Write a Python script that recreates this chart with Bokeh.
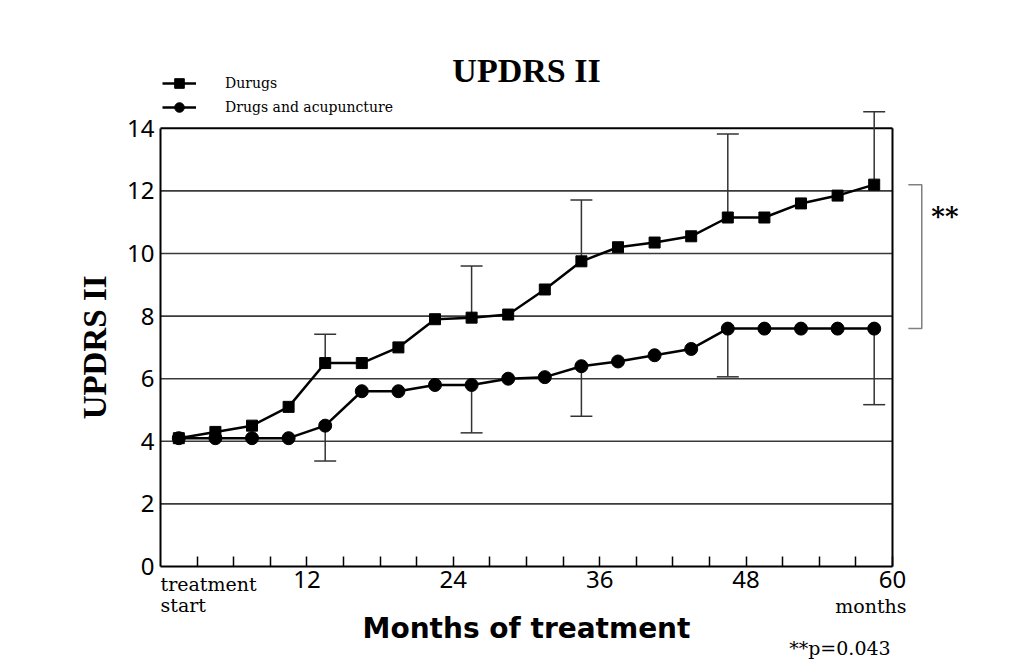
import math
from bokeh.plotting import figure
from bokeh.models import Range1d, FixedTicker, Label, Legend, LegendItem
from bokeh.embed import file_html
from bokeh.resources import INLINE

# Visit months (midpoints of each 3-month block)
months = [1.5, 4.5, 7.5, 10.5, 13.5, 16.5, 19.5, 22.5, 25.5, 28.5,
          31.5, 34.5, 37.5, 40.5, 43.5, 46.5, 49.5, 52.5, 55.5, 58.5]

# Mean UPDRS II scores
durugs = [4.1, 4.3, 4.5, 5.1, 6.5, 6.5, 7.0, 7.9, 7.95, 8.05,
          8.85, 9.75, 10.2, 10.35, 10.55, 11.15, 11.15, 11.6, 11.85, 12.2]
acupuncture = [4.1, 4.1, 4.1, 4.1, 4.5, 5.6, 5.6, 5.8, 5.8, 6.0,
               6.05, 6.4, 6.55, 6.75, 6.95, 7.6, 7.6, 7.6, 7.6, 7.6]

# Standard deviations shown at selected visits
err_months = [13.5, 25.5, 34.5, 46.5, 58.5]
durugs_sd = [0.92, 1.65, 1.96, 2.67, 2.33]
acupuncture_sd = [1.13, 1.53, 1.6, 1.54, 2.43]

y_ticks = [0, 2, 4, 6, 8, 10, 12, 14]
x_ticks = [12, 24, 36, 48, 60]
x_minor = [3, 6, 9, 15, 18, 21, 27, 30, 33, 39, 42, 45, 51, 54, 57]
grid_levels = [2, 4, 6, 8, 10, 12]

X_MAX, Y_MAX = 60, 14

# the data frame fills the canvas; axes are pinned at x=0 / y=0
p = figure(width=1024, height=661,
           x_range=Range1d(-13.115, 70.82), y_range=Range1d(-3.035, 18.083),
           output_backend="svg", toolbar_location=None,
           min_border=0)
p.outline_line_color = None
p.grid.visible = False
p.background_fill_color = "white"
p.border_fill_color = "white"

# axes
p.xaxis.fixed_location = 0
p.xaxis.bounds = (0, X_MAX)
p.xaxis.ticker = FixedTicker(ticks=x_ticks, minor_ticks=x_minor)
p.xaxis.major_tick_in = 10
p.xaxis.major_tick_out = 0
p.xaxis.minor_tick_in = 10
p.xaxis.minor_tick_out = 0
p.xaxis.major_tick_line_width = 1.5
p.xaxis.minor_tick_line_width = 1.5
p.xaxis.major_label_standoff = 4

p.yaxis.fixed_location = 0
p.yaxis.bounds = (0, Y_MAX)
p.yaxis.ticker = FixedTicker(ticks=y_ticks)
p.yaxis.major_tick_in = 0
p.yaxis.major_tick_out = 0
p.yaxis.major_label_standoff = 6

for ax in (p.xaxis, p.yaxis):
    ax.axis_line_width = 2
    ax.axis_line_color = "black"
    ax.major_tick_line_color = "black"
    ax.minor_tick_line_color = "black"
    ax.major_label_text_font = "Noto Sans"
    ax.major_label_text_font_size = "24px"
    ax.major_label_text_color = "black"

# horizontal grid and the top/right sides of the box
p.segment(x0=[0] * len(grid_levels), y0=grid_levels,
          x1=[X_MAX] * len(grid_levels), y1=grid_levels,
          line_color="#3a3a3a", line_width=1.6)
p.segment(x0=[0, X_MAX], y0=[Y_MAX, 0], x1=[X_MAX, X_MAX], y1=[Y_MAX, Y_MAX],
          line_color="black", line_width=2)

# error bars: upward for drugs only, downward for drugs + acupuncture
d_idx = [months.index(m) for m in err_months]
d_mean = [durugs[i] for i in d_idx]
a_mean = [acupuncture[i] for i in d_idx]
d_top = [m + s for m, s in zip(d_mean, durugs_sd)]
a_bot = [m - s for m, s in zip(a_mean, acupuncture_sd)]
cap = 0.9
p.segment(x0=err_months, y0=d_mean, x1=err_months, y1=d_top,
          line_color="#333333", line_width=1.5)
p.segment(x0=[m - cap for m in err_months], y0=d_top,
          x1=[m + cap for m in err_months], y1=d_top,
          line_color="#333333", line_width=1.5)
p.segment(x0=err_months, y0=a_mean, x1=err_months, y1=a_bot,
          line_color="#333333", line_width=1.5)
p.segment(x0=[m - cap for m in err_months], y0=a_bot,
          x1=[m + cap for m in err_months], y1=a_bot,
          line_color="#333333", line_width=1.5)

# series
l1 = p.line(months, durugs, line_color="black", line_width=2.5)
s1 = p.scatter(months, durugs, marker="square", size=11,
               fill_color="black", line_color="black")
l2 = p.line(months, acupuncture, line_color="black", line_width=2.5)
s2 = p.scatter(months, acupuncture, marker="circle", size=13,
               fill_color="black", line_color="black")

legend = Legend(items=[LegendItem(label="Durugs", renderers=[l1, s1]),
                       LegendItem(label="Drugs and acupuncture", renderers=[l2, s2])],
                location=(162, 542), glyph_width=34, glyph_height=24, spacing=0,
                padding=0, margin=0, label_standoff=29, label_height=24,
                border_line_color=None, background_fill_alpha=0,
                label_text_font="DejaVu Serif", label_text_font_size="14px",
                label_text_color="black")
p.add_layout(legend)

# significance bracket between the final means
bx0, bx1 = 61.3, 62.4
p.line([bx0, bx1, bx1, bx0], [durugs[-1], durugs[-1], acupuncture[-1], acupuncture[-1]],
       line_color="#808080", line_width=1.5)
p.add_layout(Label(x=64.3, y=11.2, text="**", text_align="center",
                   text_baseline="middle", text_font="DejaVu Serif",
                   text_font_style="bold", text_font_size="26px", text_color="black"))

# titles and extra annotations
p.add_layout(Label(x=30, y=15.85, text="UPDRS II", text_align="center",
                   text_baseline="middle", text_font="Liberation Serif",
                   text_font_style="bold", text_font_size="34px", text_color="black"))
p.add_layout(Label(x=-5.4, y=7.0, text="UPDRS II", angle=math.pi / 2,
                   text_align="center", text_baseline="middle",
                   text_font="Liberation Serif", text_font_style="bold",
                   text_font_size="33px", text_color="black"))
p.add_layout(Label(x=30, y=-1.98, text="Months of treatment", text_align="center",
                   text_baseline="middle", text_font="DejaVu Sans",
                   text_font_style="bold", text_font_size="28px", text_color="black"))
p.add_layout(Label(x=0, y=-0.2, text="treatment\nstart", text_align="left",
                   text_baseline="top", text_font="DejaVu Serif",
                   text_font_size="19px", text_line_height=0.95, text_color="black"))
p.add_layout(Label(x=61.15, y=-0.9, text="months", text_align="right",
                   text_baseline="top", text_font="DejaVu Serif",
                   text_font_size="19px", text_color="black"))
p.add_layout(Label(x=59.85, y=-2.6, text="**p=0.043", text_align="right",
                   text_baseline="middle", text_font="DejaVu Serif",
                   text_font_size="19px", text_color="black"))

open("out.html", "w").write(file_html(p, INLINE))
